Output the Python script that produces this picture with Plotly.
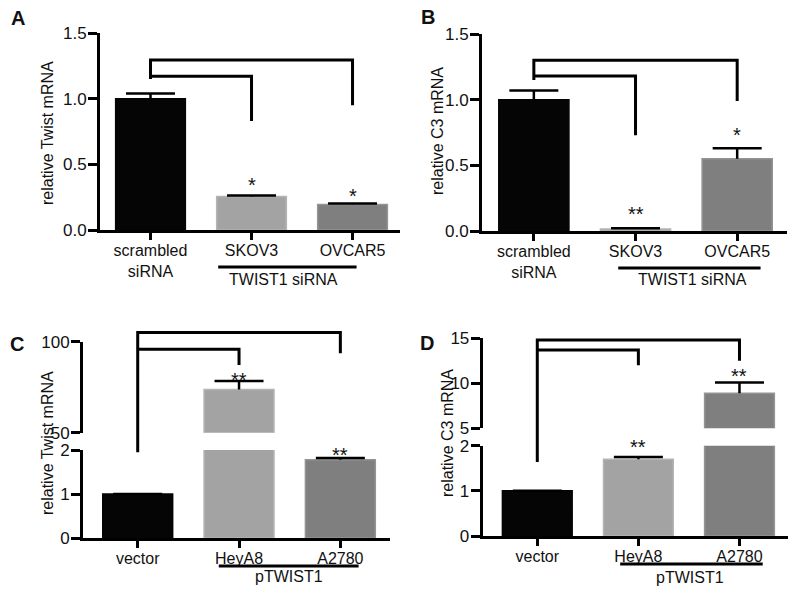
import plotly.graph_objects as go

# ---------------- data ----------------
a_labels = ["scrambled<br>siRNA", "SKOV3", "OVCAR5"]
a_values = [1.0, 0.255, 0.195]
a_errors = [0.04, 0.008, 0.006]
a_stars = ["", "*", "*"]

b_labels = ["scrambled<br>siRNA", "SKOV3", "OVCAR5"]
b_values = [1.0, 0.015, 0.55]
b_errors = [0.07, 0.005, 0.08]
b_stars = ["", "**", "*"]

c_labels = ["vector", "HeyA8", "A2780"]
c_values = [1.0, 73.8, 1.78]
c_errors = [0.0, 4.6, 0.04]
c_stars = ["", "**", "**"]

d_labels = ["vector", "HeyA8", "A2780"]
d_values = [1.0, 1.70, 8.9]
d_errors = [0.0, 0.05, 1.2]
d_stars = ["", "**", "**"]

# significance brackets: (left-leg bottom, outer top, outer right bottom, inner top, inner right bottom)
a_brackets = [1.15, 1.295, 0.95, 1.17, 0.83]
b_brackets = [1.15, 1.30, 0.99, 1.18, 0.73]
c_brackets = [1.95, 105.0, 93.6, 95.8, 87.2]
d_brackets = [1.64, 14.8, 12.5, 13.7, 12.0]

bar_colors = ["#050505", "#a3a3a3", "#7f7f7f"]
edge_colors = ["#050505", "#b4b4b4", "#949494"]

W, H = 800, 594
FONT = "Liberation Sans, Arial, sans-serif"
TXT = "#111111"


def px(x):
    return x / W


def py(y):
    return 1 - y / H


fig = go.Figure()

panels = {
    "A": dict(x="x", xdom=[px(100), px(400)], xr=[-0.5, 2.47],
              segs=[("y", [py(230), py(33)], [0, 1.5], [0, 0.5, 1.0, 1.5], ["0.0", "0.5", "1.0", "1.5"])],
              labels=a_labels, values=a_values, errors=a_errors, stars=a_stars, br=a_brackets),
    "B": dict(x="x2", xdom=[px(482), px(787)], xr=[-0.51, 2.49],
              segs=[("y2", [py(231), py(34)], [0, 1.5], [0, 0.5, 1.0, 1.5], ["0.0", "0.5", "1.0", "1.5"])],
              labels=b_labels, values=b_values, errors=b_errors, stars=b_stars, br=b_brackets),
    "C": dict(x="x3", xdom=[px(83), px(390)], xr=[-0.54, 2.49],
              segs=[("y3", [py(538), py(450)], [0, 2], [0, 1, 2], ["0", "1", "2"]),
                    ("y4", [py(432.7), py(341.7)], [50, 100], [50, 100], ["50", "100"])],
              labels=c_labels, values=c_values, errors=c_errors, stars=c_stars, br=c_brackets),
    "D": dict(x="x4", xdom=[px(482.7), px(788)], xr=[-0.54, 2.48],
              segs=[("y5", [py(536), py(445.7)], [0, 2], [0, 1, 2], ["0", "1", "2"]),
                    ("y6", [py(428.3), py(338.3)], [5, 15], [5, 10, 15], ["5", "10", "15"])],
              labels=d_labels, values=d_values, errors=d_errors, stars=d_stars, br=d_brackets),
}


def to_paper(p, v):
    segs = panels[p]["segs"]
    for i, (_, d, r, _, _) in enumerate(segs):
        if r[0] <= v <= r[1]:
            return d[0] + (v - r[0]) / (r[1] - r[0]) * (d[1] - d[0])
        if i + 1 < len(segs) and r[1] < v < segs[i + 1][2][0]:
            nd, nr = segs[i + 1][1], segs[i + 1][2]
            return d[1] + (v - r[1]) / (nr[0] - r[1]) * (nd[0] - d[1])
    _, d, r, _, _ = segs[-1]
    return d[0] + (v - r[0]) / (r[1] - r[0]) * (d[1] - d[0])


def axname(ref):
    return ref.replace("x", "xaxis").replace("y", "yaxis")


layout_axes = {}
shapes = []
annotations = []

star_shift = {"A": [0, -3, -5], "B": [0, 1, 0], "C": [0, -12, -10], "D": [0, -3, -7]}

for p, P in panels.items():
    xs = [0, 1, 2]
    xref = P["x"]
    lower_y = P["segs"][0][0]
    layout_axes[axname(xref)] = dict(
        domain=P["xdom"], range=P["xr"], anchor=lower_y, showline=True, linewidth=3,
        linecolor="black", ticks="outside", ticklen=7, tickwidth=3, tickcolor="black",
        tickvals=xs, ticktext=P["labels"], showgrid=False, zeroline=False, automargin=False,
        ticklabelstandoff=-3,
        tickfont=dict(size=16, color=TXT, family=FONT), fixedrange=True)
    for yref, dom, rng, tv, tt in P["segs"]:
        layout_axes[axname(yref)] = dict(
            domain=dom, range=rng, anchor=xref, showline=True, linewidth=3,
            linecolor="black", ticks="outside", ticklen=9, tickwidth=3, tickcolor="black",
            tickvals=tv, ticktext=tt, showgrid=False, zeroline=False, automargin=False,
            ticklabelstandoff=-2,
            tickfont=dict(size=17, color=TXT, family=FONT), fixedrange=True)
        fig.add_trace(go.Bar(
            x=xs, y=P["values"], width=0.69, xaxis=xref, yaxis=yref,
            marker=dict(color=bar_colors, line=dict(color=edge_colors, width=1.5)),
            error_y=dict(type="data", symmetric=False, array=P["errors"],
                         arrayminus=[0, 0, 0], width=0, thickness=2.5, color="black"),
            showlegend=False))
        fig.add_trace(go.Scatter(
            x=xs, y=[v + e for v, e in zip(P["values"], P["errors"])],
            xaxis=xref, yaxis=yref, mode="markers",
            marker=dict(symbol="line-ew", size=35, line=dict(width=2.5, color="black")),
            showlegend=False, hoverinfo="skip"))

    for i, s in enumerate(P["stars"]):
        if not s:
            continue
        top = P["values"][i] + P["errors"][i]
        yref = P["segs"][0][0]
        for sref, dom, rng, _, _ in P["segs"]:
            if rng[0] <= top <= rng[1] + 0.3:
                yref = sref
        annotations.append(dict(x=i, y=top, xref=xref, yref=yref, text=s, showarrow=False,
                                yanchor="bottom", yshift=star_shift[p][i],
                                font=dict(size=20, color=TXT, family=FONT)))

    lb, ot, orb, it, irb = P["br"]
    shapes.append(dict(type="path", xref=xref, yref="paper",
                       path=f"M0,{to_paper(p, lb)} L0,{to_paper(p, ot)} L2,{to_paper(p, ot)} L2,{to_paper(p, orb)}",
                       line=dict(color="black", width=3)))
    shapes.append(dict(type="path", xref=xref, yref="paper",
                       path=f"M0,{to_paper(p, it)} L1,{to_paper(p, it)} L1,{to_paper(p, irb)}",
                       line=dict(color="black", width=3)))

groups = [
    ("x", 0.67, 2.04, 267, 1.32, 279, "TWIST1 siRNA"),
    ("x2", 0.83, 2.23, 268, 1.56, 279, "TWIST1 siRNA"),
    ("x3", 0.80, 2.18, 566, 1.49, 576, "pTWIST1"),
    ("x4", 0.82, 2.23, 564, 1.51, 577, "pTWIST1"),
]
for xref, x0, x1, ly, tx, ty, txt in groups:
    shapes.append(dict(type="line", xref=xref, yref="paper", x0=x0, x1=x1, y0=py(ly), y1=py(ly),
                       line=dict(color="black", width=3)))
    annotations.append(dict(x=tx, y=py(ty), xref=xref, yref="paper", text=txt, showarrow=False,
                            yanchor="middle", font=dict(size=16, color=TXT, family=FONT)))

for tx, ty, txt in [(47, 133, "relative Twist mRNA"), (437, 131, "relative C3 mRNA"),
                    (47, 443, "relative Twist mRNA"), (447, 433, "relative C3 mRNA")]:
    annotations.append(dict(x=px(tx), y=py(ty), xref="paper", yref="paper", text=txt,
                            textangle=-90, showarrow=False, xanchor="center", yanchor="middle",
                            font=dict(size=16, color=TXT, family=FONT)))

for tx, ty, txt in [(18, 18, "A"), (428, 17, "B"), (17, 344, "C"), (427, 343, "D")]:
    annotations.append(dict(x=px(tx), y=py(ty), xref="paper", yref="paper", text=f"<b>{txt}</b>",
                            showarrow=False, xanchor="center", yanchor="middle",
                            font=dict(size=20, color=TXT, family=FONT)))

fig.update_layout(
    template="none",
    width=W, height=H, margin=dict(l=0, r=0, t=0, b=0, pad=0),
    paper_bgcolor="white", plot_bgcolor="white",
    shapes=shapes, annotations=annotations, bargap=0, showlegend=False,
    font=dict(family=FONT, color=TXT),
    **layout_axes)

fig.write_html("out.html", config={"displayModeBar": False, "staticPlot": True},
               post_script="document.body.style.margin='0';document.body.style.padding='0';"
                           "document.body.style.overflow='hidden';")
